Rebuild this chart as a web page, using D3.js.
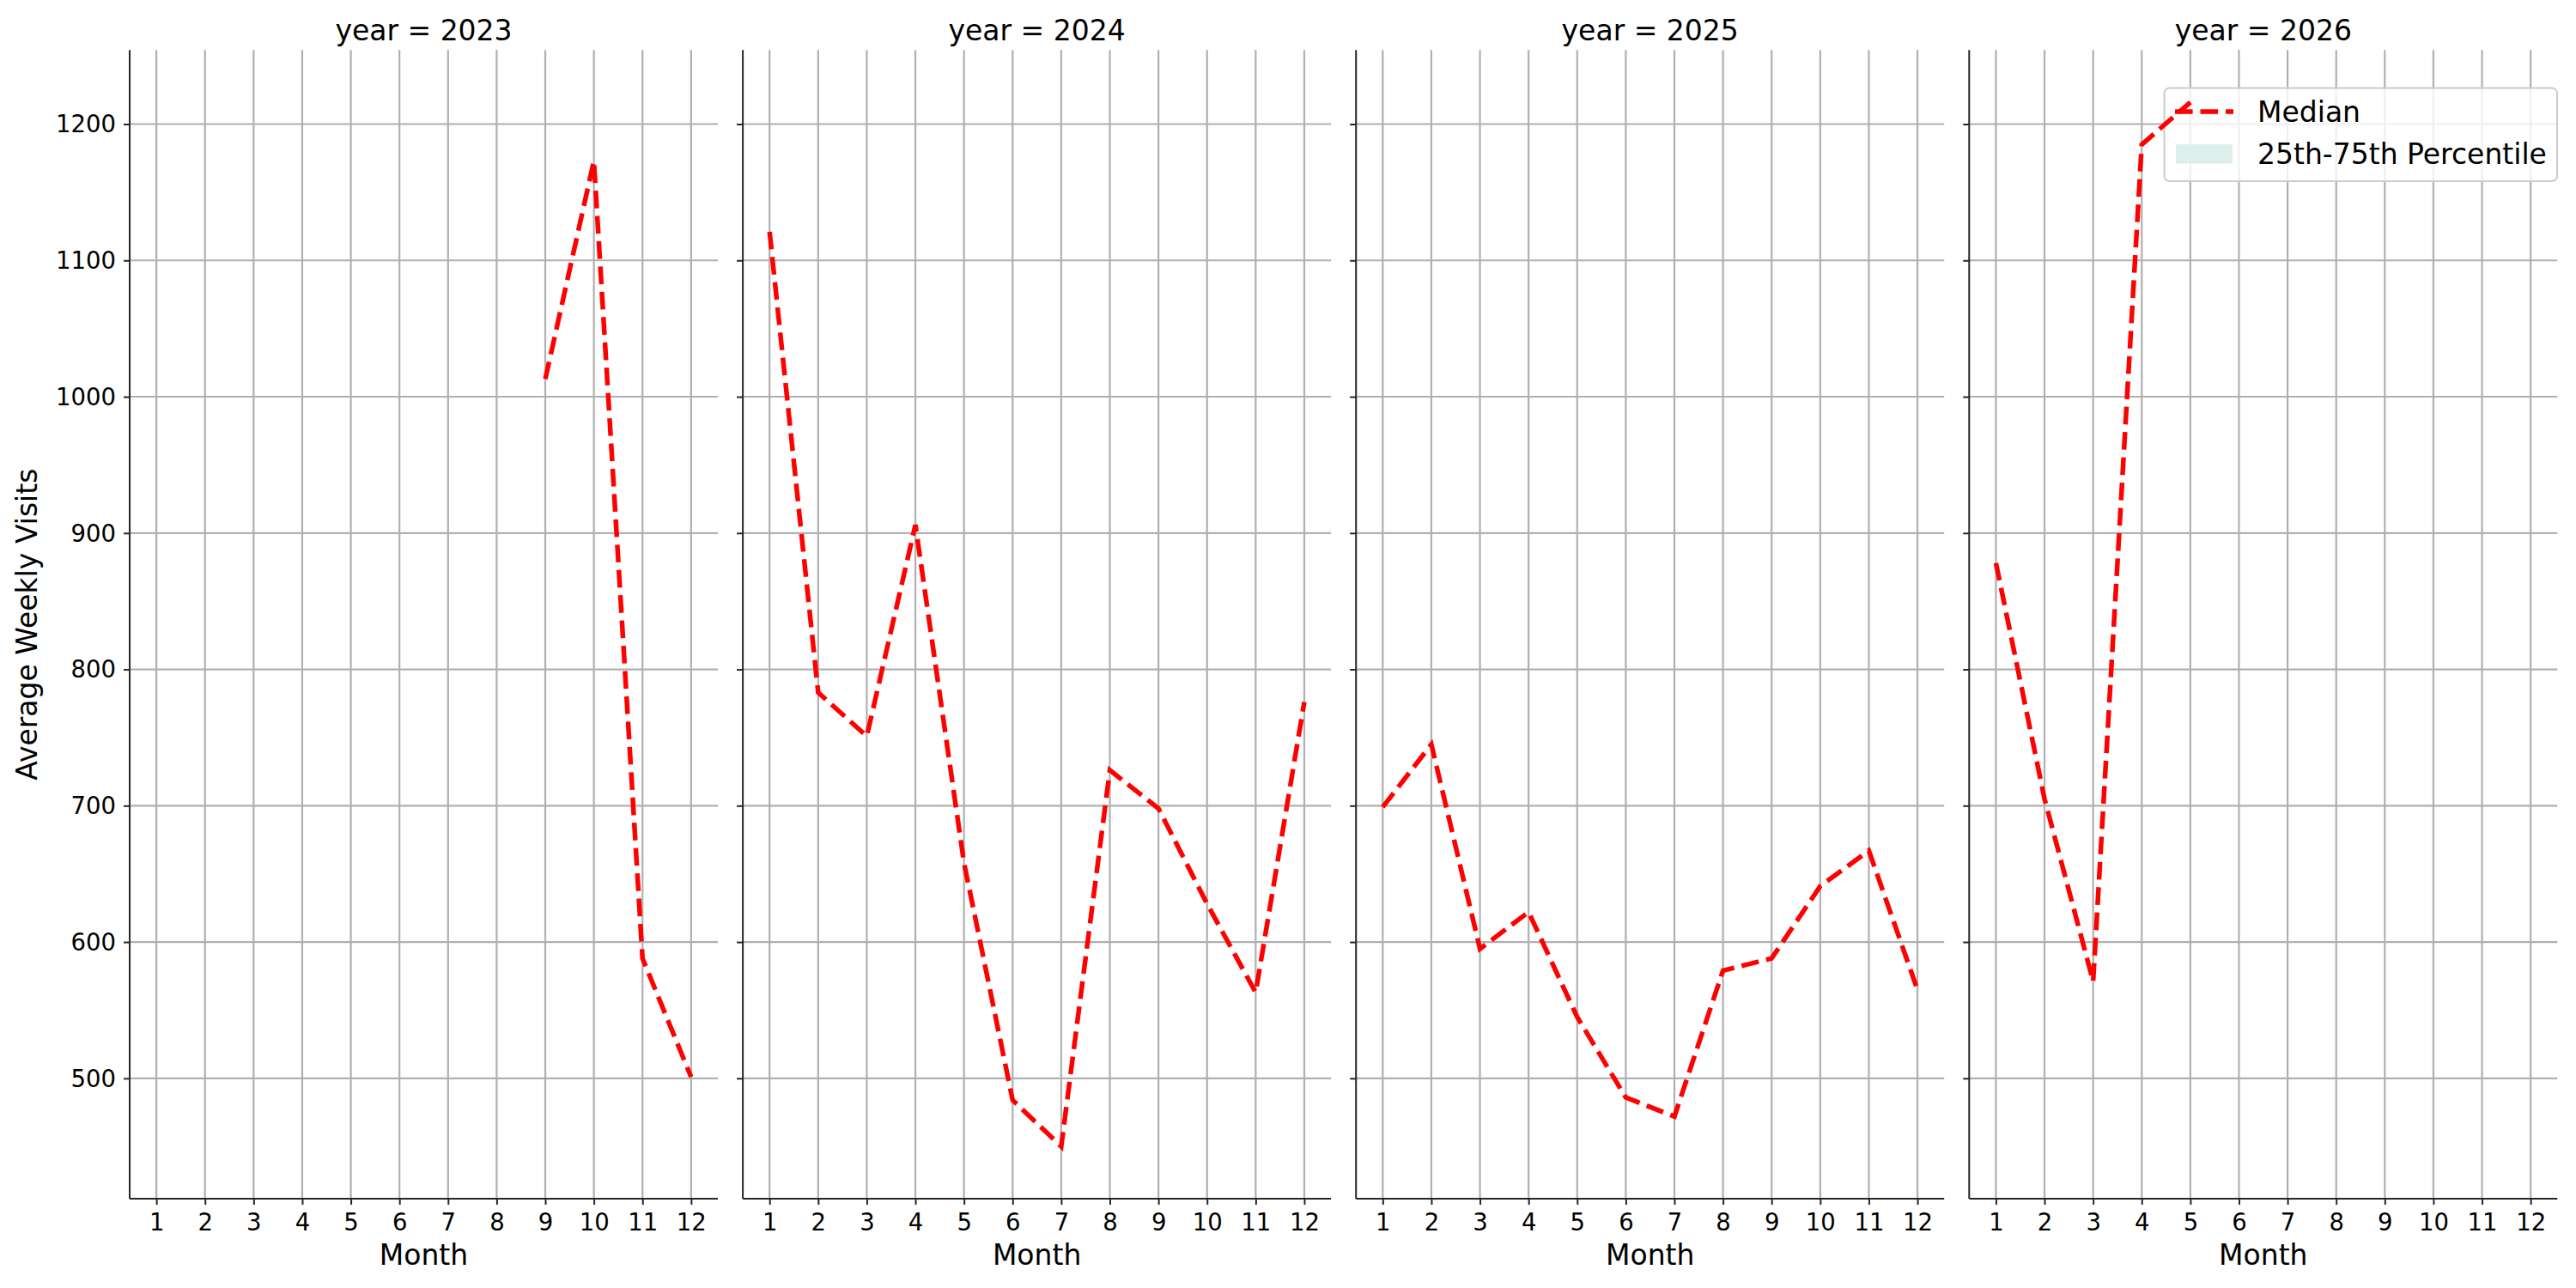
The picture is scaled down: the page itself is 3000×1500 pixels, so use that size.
<!DOCTYPE html>
<html>
<head>
<meta charset="utf-8">
<script src="https://cdn.jsdelivr.net/npm/d3@7"></script>
<style>
body { margin: 0; background: #fff; }
text { font-family: "DejaVu Sans", sans-serif; fill: #000; }
</style>
</head>
<body>
<svg id="chart" width="3000" height="1500"></svg>
<script>
// データ
var years = [2023, 2024, 2025, 2026];
var months = [1, 2, 3, 4, 5, 6, 7, 8, 9, 10, 11, 12];
var visits2023 = [null, null, null, null, null, null, null, null, 1013, 1173, 588, 501];
var visits2024 = [1121, 783, 751, 906, 658, 484, 450, 726, 698, 628, 563, 776];
var visits2025 = [699, 745, 595, 622, 545, 486, 472, 579, 588, 641, 667, 565];
var visits2026 = [878, 705, 571, 1185, 1216, null, null, null, null, null, null, null];
var yTicks = [500, 600, 700, 800, 900, 1000, 1100, 1200];
var seriesList = [visits2023, visits2024, visits2025, visits2026];

var svg = d3.select("#chart");
var panelLeft = 151, panelStep = 714.1, panelWidth = 685;
var plotTop = 58.3, plotBottom = 1396;

// y軸の範囲（matplotlib風に5%の余白）
var all = [];
seriesList.forEach(function(s){ s.forEach(function(v){ if (v != null) all.push(v); }); });
var yMin = d3.min(all), yMax = d3.max(all), pad = (yMax - yMin) * 0.05;
var y = d3.scaleLinear().domain([yMin - pad, yMax + pad]).range([plotBottom, plotTop]);

var line = d3.line()
	.defined(function(d){ return d.v != null; })
	.x(function(d){ return d.x; })
	.y(function(d){ return y(d.v); });

years.forEach(function(year, i){
	var left = panelLeft + i * panelStep;
	var x = d3.scaleLinear().domain([0.45, 12.55]).range([left, left + panelWidth]);
	var g = svg.append("g");

	// グリッド
	g.selectAll(".vg").data(months).enter().append("line")
		.attr("x1", function(d){ return x(d); }).attr("x2", function(d){ return x(d); })
		.attr("y1", plotTop).attr("y2", plotBottom)
		.attr("stroke", "#b0b0b0").attr("stroke-width", 2.2);
	g.selectAll(".hg").data(yTicks).enter().append("line")
		.attr("x1", left).attr("x2", left + panelWidth)
		.attr("y1", function(d){ return y(d); }).attr("y2", function(d){ return y(d); })
		.attr("stroke", "#b0b0b0").attr("stroke-width", 2.2);

	// 軸
	var xAxis = d3.axisBottom(x).tickValues(months).tickSize(7).tickPadding(6);
	var gx = g.append("g").attr("transform", "translate(0," + plotBottom + ")").call(xAxis);
	gx.select(".domain").attr("d", "M" + left + ",0H" + (left + panelWidth));
	var yAxis = d3.axisLeft(y).tickValues(yTicks).tickSize(7).tickPadding(9)
		.tickFormat(i > 0 ? "" : d3.format("d"));
	var gy = g.append("g").attr("transform", "translate(" + left + ",0)").call(yAxis);
	gy.select(".domain").attr("d", "M0," + plotTop + "V" + plotBottom);
	[gx, gy].forEach(function(a){
		a.selectAll(".domain, line").attr("stroke", "#262626").attr("stroke-width", 2);
		a.selectAll("text").style("font-size", "27.5px").attr("fill", "#000");
	});
	gx.selectAll("text").attr("dy", null).attr("y", 37);
	gy.selectAll("text").attr("dy", "0.34em");

	// タイトルとラベル
	g.append("text").attr("x", left + panelWidth / 2).attr("y", 47)
		.attr("text-anchor", "middle").style("font-size", "33px")
		.text("year = " + year);
	g.append("text").attr("x", left + panelWidth / 2).attr("y", 1473)
		.attr("text-anchor", "middle").style("font-size", "33px")
		.text("Month");

	// 凡例（最後のパネル）
	if (i == 3) {
		var lg = g.append("g");
		lg.append("rect").attr("x", 2520.5).attr("y", 102.6).attr("width", 457.5).attr("height", 108.4)
			.attr("rx", 6).attr("fill", "#fff").attr("fill-opacity", 0.8)
			.attr("stroke", "#cccccc").attr("stroke-width", 2);
		lg.append("line").attr("x1", 2533).attr("x2", 2601).attr("y1", 130).attr("y2", 130)
			.attr("stroke", "red").attr("stroke-width", 5.5).attr("stroke-dasharray", "20.6,8.9");
		lg.append("rect").attr("x", 2534).attr("y", 168).attr("width", 66).attr("height", 22.5)
			.attr("fill", "#deefeb");
		lg.append("text").attr("x", 2629).attr("y", 141.5).style("font-size", "33px").text("Median");
		lg.append("text").attr("x", 2629).attr("y", 190.5).style("font-size", "33px").text("25th-75th Percentile");
	}

	// 中央値の線
	var pts = months.map(function(m, k){ return { x: x(m), v: seriesList[i][k] }; });
	g.append("path").datum(pts).attr("d", line)
		.attr("fill", "none").attr("stroke", "red").attr("stroke-width", 5.5)
		.attr("stroke-dasharray", "20.6,8.9");
});

// y軸ラベル
svg.append("text").attr("transform", "translate(43," + ((plotTop + plotBottom) / 2) + ") rotate(-90)")
	.attr("text-anchor", "middle").style("font-size", "33px")
	.text("Average Weekly Visits");
</script>
</body>
</html>
